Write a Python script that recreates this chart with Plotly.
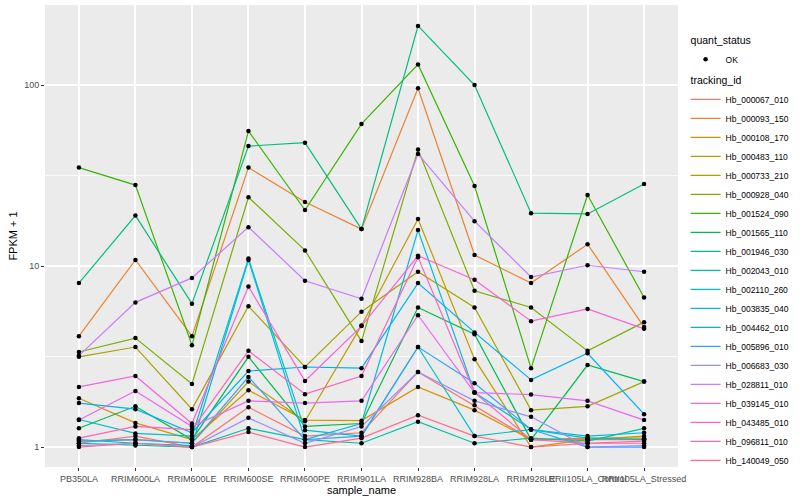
import math
import plotly.graph_objects as go

categories = ["PB350LA", "RRIM600LA", "RRIM600LE", "RRIM600SE", "RRIM600PE", "RRIM901LA",
              "RRIM928BA", "RRIM928LA", "RRIM928LE", "RRII105LA_Control", "RRII105LA_Stressed"]

tracking_ids = ["Hb_000067_010", "Hb_000093_150", "Hb_000108_170", "Hb_000483_110", "Hb_000733_210",
                "Hb_000928_040", "Hb_001524_090", "Hb_001565_110", "Hb_001946_030", "Hb_002043_010",
                "Hb_002110_260", "Hb_003835_040", "Hb_004462_010", "Hb_005896_010", "Hb_006683_030",
                "Hb_028811_010", "Hb_039145_010", "Hb_043485_010", "Hb_096811_010", "Hb_140049_050"]

hb_000067_010 = [1.05, 1.15, 1.0, 1.66, 1.15, 1.2, 2.6, 1.7, 1.1, 1.1, 1.1]
hb_000093_150 = [4.1, 10.8, 4.1, 35, 22.6, 16, 96, 11.5, 8.05, 13.2, 4.6]
hb_000108_170 = [1.86, 1.36, 1.1, 2.06, 1.41, 1.4, 2.15, 1.6, 1.1, 1.12, 1.12]
hb_000483_110 = [1.08, 1.1, 1.05, 2.3, 1.39, 4.7, 18.2, 3.06, 1.0, 1.1, 1.15]
hb_000733_210 = [3.15, 3.57, 1.62, 6.0, 2.77, 5.6, 9.3, 5.9, 1.6, 1.68, 2.3]
hb_000928_040 = [3.35, 4.0, 2.23, 24, 12.2, 3.85, 44, 7.3, 5.9, 3.4, 4.9]
hb_001524_090 = [35, 28, 3.65, 55.7, 20.4, 61, 130, 27.7, 2.73, 24.7, 6.7]
hb_001565_110 = [1.27, 1.68, 1.1, 3.15, 1.3, 1.35, 5.9, 4.2, 1.1, 2.84, 2.3]
hb_001946_030 = [8.05, 19, 6.2, 46, 48, 16, 212, 100, 19.6, 19.4, 28.4]
hb_002043_010 = [1.05, 1.02, 1.0, 1.27, 1.1, 1.05, 1.38, 1.05, 1.12, 1.08, 1.27]
hb_002110_260 = [1.42, 1.19, 1.15, 11, 1.24, 1.15, 3.57, 1.15, 1.25, 1.12, 1.1]
hb_003835_040 = [1.1, 1.05, 1.02, 10.8, 1.1, 1.35, 15.8, 2.0, 1.25, 1.15, 1.2]
hb_004462_010 = [1.75, 1.62, 1.2, 2.63, 2.77, 2.73, 8.05, 4.3, 2.35, 3.3, 1.52]
hb_005896_010 = [1.08, 1.1, 1.05, 2.44, 1.1, 1.15, 3.57, 2.25, 1.25, 1.0, 1.0]
hb_006683_030 = [1.02, 1.05, 1.0, 1.45, 1.05, 1.3, 2.6, 1.8, 1.47, 1.0, 1.02]
hb_028811_010 = [3.2, 6.3, 8.6, 16.4, 8.3, 6.6, 41.6, 17.7, 8.7, 10.1, 9.3]
hb_039145_010 = [1.41, 2.04, 1.3, 1.8, 1.75, 1.8, 5.35, 2.0, 1.95, 1.8, 1.41]
hb_043485_010 = [2.15, 2.47, 1.35, 7.7, 2.32, 4.66, 11.4, 8.4, 4.96, 5.8, 4.5]
hb_096811_010 = [1.12, 1.3, 1.25, 3.4, 1.96, 2.47, 11.2, 2.0, 1.1, 1.05, 1.08]
hb_140049_050 = [1.0, 1.05, 1.0, 1.21, 1.0, 1.12, 1.5, 1.15, 1.0, 1.05, 1.05]

series_values = [hb_000067_010, hb_000093_150, hb_000108_170, hb_000483_110, hb_000733_210,
                 hb_000928_040, hb_001524_090, hb_001565_110, hb_001946_030, hb_002043_010,
                 hb_002110_260, hb_003835_040, hb_004462_010, hb_005896_010, hb_006683_030,
                 hb_028811_010, hb_039145_010, hb_043485_010, hb_096811_010, hb_140049_050]

colors = ["#F8766D", "#EA8331", "#D89000", "#C09B00", "#A3A500", "#7CAE00", "#39B600", "#00BB4E",
          "#00BF7D", "#00C1A3", "#00BFC4", "#00BAE0", "#00B0F6", "#35A2FF", "#9590FF", "#C77CFF",
          "#E76BF3", "#FA62DB", "#FF62BC", "#FF6C91"]

y_tickvals = [1, 10, 100]
y_ticktext = ["1", "10", "100"]
y_minor = [10 ** 0.5, 10 ** 1.5]
y_range = [-0.11, 2.442]

fig = go.Figure()

all_x, all_y = [], []
for vals in series_values:
    all_x += categories
    all_y += vals

for i, (tid, vals) in enumerate(zip(tracking_ids, series_values)):
    fig.add_trace(go.Scatter(
        x=categories, y=vals, mode="lines", name=tid,
        line=dict(color=colors[i], width=1.2),
        legendgroup="tracking_id",
        legendgrouptitle=dict(text="tracking_id") if i == 0 else None,
        legendrank=100 + i,
    ))

fig.add_trace(go.Scatter(
    x=all_x, y=all_y, mode="markers", name="OK",
    marker=dict(color="black", size=4.5),
    legendgroup="quant_status",
    legendgrouptitle=dict(text="quant_status"),
    legendrank=1,
))

# minor horizontal grid lines (ggplot style)
for v in y_minor:
    py = (math.log10(v) - y_range[0]) / (y_range[1] - y_range[0])
    fig.add_shape(type="line", xref="paper", yref="paper", x0=0, x1=1, y0=py, y1=py,
                  line=dict(color="white", width=0.8), layer="below")

fig.update_layout(
    width=800, height=500,
    margin=dict(l=45, r=118, t=5, b=33),
    paper_bgcolor="white",
    plot_bgcolor="#EBEBEB",
    font=dict(family="Liberation Sans, Arial, sans-serif", size=10, color="black"),
    showlegend=True,
    legend=dict(
        x=1.012, xanchor="left", y=0.955, yanchor="top",
        traceorder="grouped", tracegroupgap=2, itemwidth=30,
        font=dict(size=8.5, color="black"),
        grouptitlefont=dict(size=10.5, color="black"),
        bgcolor="rgba(0,0,0,0)",
    ),
    xaxis=dict(
        type="category", categoryorder="array", categoryarray=categories,
        range=[-0.6, len(categories) - 0.4],
        showgrid=True, gridcolor="white", gridwidth=1.5,
        tickangle=0, ticks="outside", ticklen=3, tickcolor="#333333",
        tickfont=dict(size=9, color="#4D4D4D"),
        title=dict(text="sample_name", font=dict(size=11), standoff=0),
        zeroline=False, showline=False, automargin=False,
    ),
    yaxis=dict(
        type="log", range=y_range,
        tickmode="array", tickvals=y_tickvals, ticktext=y_ticktext,
        showgrid=True, gridcolor="white", gridwidth=1.5,
        ticks="outside", ticklen=3, tickcolor="#333333",
        tickfont=dict(size=9, color="#4D4D4D"),
        title=dict(text="FPKM + 1", font=dict(size=11), standoff=4),
        zeroline=False, showline=False, automargin=False,
    ),
)

fig.write_html("out.html", config={"displayModeBar": False})

# remove the default browser page margin so the 800x500 figure fills the window exactly
with open("out.html", "r", encoding="utf-8") as f:
    html = f.read()
html = html.replace("<head>", "<head><style>html,body{margin:0;padding:0;overflow:hidden;}</style>", 1)
with open("out.html", "w", encoding="utf-8") as f:
    f.write(html)
